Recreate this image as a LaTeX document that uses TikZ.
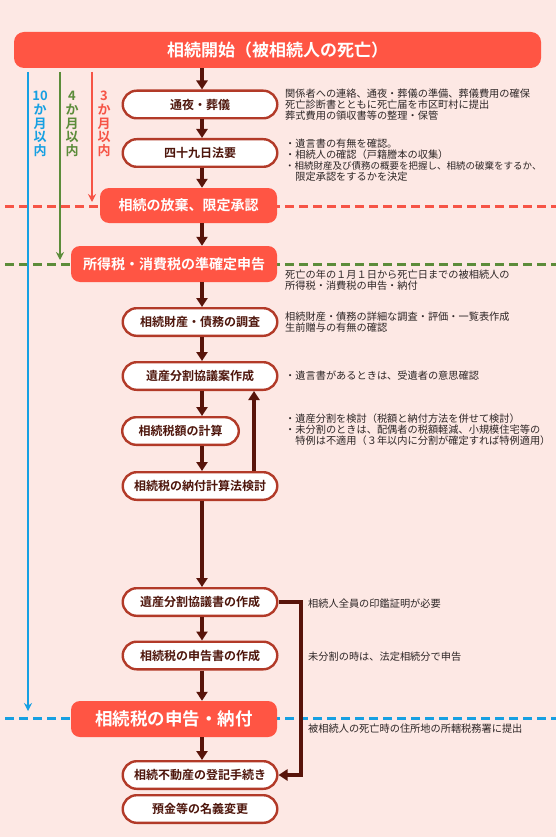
\documentclass[tikz,border=0pt]{standalone}
\usepackage{fontspec}
\newfontfamily\jp[BoldFont={Noto Sans CJK JP Bold}]{Noto Sans CJK JP}
\usetikzlibrary{arrows.meta}
\definecolor{bgc}{RGB}{253,232,228}
\definecolor{coral}{RGB}{255,85,68}
\definecolor{bord}{RGB}{178,58,40}
\definecolor{arrc}{RGB}{88,20,10}
\definecolor{btext}{RGB}{78,22,12}
\definecolor{annot}{RGB}{45,38,38}
\definecolor{tblue}{RGB}{22,160,226}
\definecolor{tgreen}{RGB}{92,140,58}
\definecolor{tred}{RGB}{246,84,70}
\begin{document}
\begin{tikzpicture}[x=1pt,y=-1pt,
  wbox/.style={draw=bord, line width=2.4pt, fill=white, rounded corners=14pt,
    minimum width=154.6pt, minimum height=27.6pt, inner sep=0pt,
    font=\jp\bfseries\fontsize{12}{12}\selectfont, text=btext},
  cbox/.style={fill=coral, rounded corners=9pt, inner sep=0pt, text=white,
    font=\jp\bfseries\fontsize{14}{14}\selectfont},
  arr/.style={draw=arrc, line width=3.2pt, -{Triangle[length=9pt,width=11pt]}},
  tline/.style={line width=2pt, -{Stealth[length=8pt,width=8pt]}},
  tlabel/.style={font=\jp\bfseries\fontsize{13}{13.6}\selectfont, align=center, inner sep=0pt},
  dline/.style={line width=3pt, dash pattern=on 9pt off 5pt},
  note/.style={font=\jp\fontsize{10.2}{11}\selectfont, text=annot, align=left, inner sep=0pt, anchor=west}
]
\fill[bgc] (0,0) rectangle (556,837);
\useasboundingbox (0,0) rectangle (556,837);

% dashed deadline lines
\draw[dline, tred] (5,206) -- (556,206);
\draw[dline, tgreen] (5,264) -- (556,264);
\draw[dline, tblue] (5,718) -- (556,718);

% timing lines
\coordinate (tb0) at (28,72);  \coordinate (tb1) at (28,711);
\coordinate (tg0) at (60,72);  \coordinate (tg1) at (60,260);
\coordinate (tr0) at (92,72);  \coordinate (tr1) at (92,202);
\draw[tline, tblue] (tb0) -- (tb1);
\draw[tline, tgreen] (tg0) -- (tg1);
\draw[tline, tred] (tr0) -- (tr1);
\node[tlabel, text=tblue] (lb) at (40,124) {10\\か\\月\\以\\内};
\node[tlabel, text=tgreen] (lg) at (72,124) {4\\か\\月\\以\\内};
\node[tlabel, text=tred] (lr) at (104,124) {3\\か\\月\\以\\内};

% nodes
\node[cbox, minimum width=527pt, minimum height=36pt, rounded corners=10pt,
  font=\jp\bfseries\fontsize{17}{17}\selectfont] (top) at (277.5,50) {相続開始（被相続人の死亡）};
\node[wbox] (b1) at (200,104.5) {通夜・葬儀};
\node[wbox] (b2) at (200,153) {四十九日法要};
\node[cbox, minimum width=177pt, minimum height=35pt] (c1) at (188.5,205.5) {相続の放棄、限定承認};
\node[cbox, minimum width=206pt, minimum height=36pt] (c2) at (174,264) {所得税・消費税の準確定申告};
\node[wbox] (b3) at (200,322) {相続財産・債務の調査};
\node[wbox] (b4) at (200,376) {遺産分割協議案作成};
\node[wbox, minimum width=116.6pt] (b5) at (180.5,431) {相続税額の計算};
\node[wbox] (b6) at (200,486) {相続税の納付計算法検討};
\node[wbox] (b7) at (200,602) {遺産分割協議書の作成};
\node[wbox] (b8) at (200,655.5) {相続税の申告書の作成};
\node[cbox, minimum width=206pt, minimum height=36pt,
  font=\jp\bfseries\fontsize{17.5}{17.5}\selectfont] (c3) at (174,719) {相続税の申告・納付};
\node[wbox] (b9) at (200,775) {相続不動産の登記手続き};
\node[wbox] (b10) at (200,809) {預金等の名義変更};

% arrows
\coordinate (sp) at (202,0);
\coordinate (up) at (254,0);
\coordinate (bk) at (301,0);
\draw[arr] (top.south -| sp) -- (b1.north -| sp);
\draw[arr] (b1.south -| sp) -- (b2.north -| sp);
\draw[arr] (b2.south -| sp) -- (c1.north -| sp);
\draw[arr] (c1.south -| sp) -- (c2.north -| sp);
\draw[arr] (c2.south -| sp) -- (b3.north -| sp);
\draw[arr] (b3.south -| sp) -- (b4.north -| sp);
\draw[arr] (b4.south -| sp) -- (b5.north -| sp);
\draw[arr] (b5.south -| sp) -- (b6.north -| sp);
\draw[arr] (b6.north -| up) -- (b4.south -| up);
\draw[arr] (b6.south -| sp) -- (b7.north -| sp);
\draw[arr] (b7.south -| sp) -- (b8.north -| sp);
\draw[arr] (b8.south -| sp) -- (c3.north -| sp);
\draw[arr] (c3.south -| sp) -- (b9.north -| sp);
\draw[arr, line join=miter] (b7.east) -- (b7.east -| bk) -- (b9.east -| bk) -- (b9.east);

% notes
\node[note] (n1) at (285,104.5) {関係者への連絡、通夜・葬儀の準備、葬儀費用の確保\\死亡診断書とともに死亡届を市区町村に提出\\葬式費用の領収書等の整理・保管};
\node[note] (n2) at (285,160) {・遺言書の有無を確認。\\・相続人の確認（戸籍謄本の収集）\\{\fontsize{9.5}{11}\selectfont ・相続財産及び債務の概要を把握し、相続の破棄をするか、}\\　限定承認をするかを決定};
\node[note] (n3) at (285,280) {死亡の年の１月１日から死亡日までの被相続人の\\所得税・消費税の申告・納付};
\node[note] (n4) at (285,322) {相続財産・債務の詳細な調査・評価・一覧表作成\\生前贈与の有無の確認};
\node[note] (n5) at (285,376) {・遺言書があるときは、受遺者の意思確認};
\node[note] (n6) at (285,430) {・遺産分割を検討（税額と納付方法を併せて検討）\\・未分割のときは、配偶者の税額軽減、小規模住宅等の\\　特例は不適用（３年以内に分割が確定すれば特例適用）};
\node[note] (n7) at (308,604) {相続人全員の印鑑証明が必要};
\node[note] (n8) at (308,657) {未分割の時は、法定相続分で申告};
\node[note] (n9) at (308,729) {被相続人の死亡時の住所地の所轄税務署に提出};
\end{tikzpicture}
\end{document}
